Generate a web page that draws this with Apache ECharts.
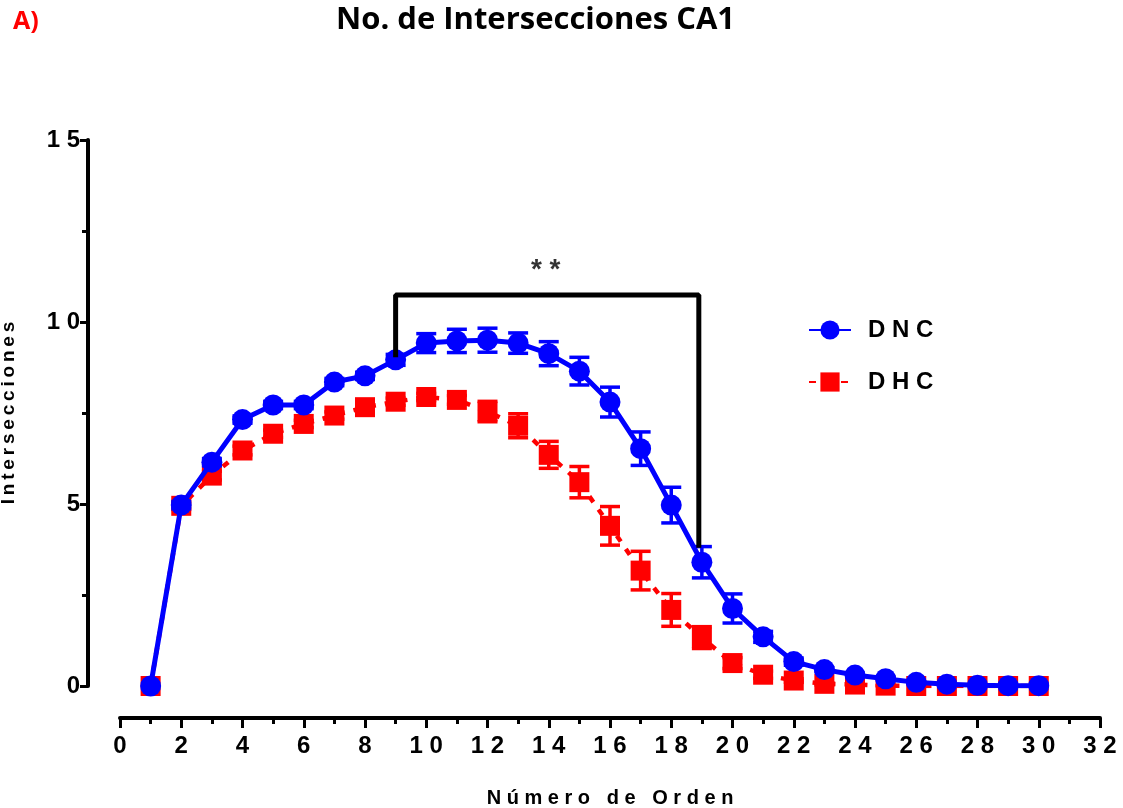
<!DOCTYPE html>
<html>
<head>
<meta charset="utf-8">
<script src="https://cdn.jsdelivr.net/npm/echarts@6/dist/echarts.min.js"></script>
<style>
html,body{margin:0;padding:0;background:#fff;}
#chart{width:1123px;height:808px;}
</style>
</head>
<body>
<div id="chart"></div>
<script>
// ---- data ----
const orden = [1,2,3,4,5,6,7,8,9,10,11,12,13,14,15,16,17,18,19,20,21,22,23,24,25,26,27,28,29,30];
const dnc    = [0,4.97,6.15,7.32,7.72,7.72,8.35,8.52,8.96,9.42,9.48,9.5,9.42,9.13,8.65,7.8,6.52,4.97,3.4,2.13,1.35,0.67,0.45,0.3,0.2,0.1,0.05,0.02,0.01,0.01];
const dncErr = [0,0.1,0.1,0.1,0.1,0.1,0.1,0.1,0.15,0.26,0.32,0.33,0.28,0.33,0.38,0.41,0.46,0.49,0.43,0.4,0.15,0.1,0.05,0.05,0.03,0.02,0.02,0.01,0.01,0.01];
const dhc    = [0,4.95,5.78,6.47,6.93,7.2,7.43,7.66,7.81,7.94,7.86,7.54,7.15,6.35,5.6,4.4,3.17,2.09,1.33,0.63,0.31,0.15,0.06,0.04,0.01,0,0,0,0,0];
const dhcErr = [0,0.1,0.12,0.12,0.1,0.1,0.1,0.1,0.1,0.1,0.12,0.28,0.33,0.37,0.43,0.53,0.53,0.45,0.3,0.15,0.1,0.05,0.03,0.02,0.01,0,0,0,0,0];
const seriesNames = ['DNC','DHC'];
const bracket = [[9,9.1],[9,10.74],[18.9,10.74],[18.9,3.87]];
const sigMark = [[13.9,11.43]];
const sigText = '* *';
const titleText = 'No. de Intersecciones CA1';
const panelText = 'A)';
const xName = 'Número de Orden';
const yName = 'Intersecciones';

// ---- helpers ----
const spread = (s, sp) => s.split('').join(sp || ' ');
const BLUE = '#0000ff', RED = '#ff0000';
const FONT = 'Liberation Sans, Arial, sans-serif';

function errRender(color){
  return function(params, api){
    const x = api.value(0), y = api.value(1), e = api.value(2);
    if (!e) return null;
    const t = api.coord([x, y + e]);
    const b = api.coord([x, y - e]);
    const hw = 10;
    const st = {stroke: color, lineWidth: 3.5};
    return {type:'group', children:[
      {type:'line', shape:{x1:t[0],y1:t[1],x2:b[0],y2:b[1]}, style:st},
      {type:'line', shape:{x1:t[0]-hw,y1:t[1],x2:t[0]+hw,y2:t[1]}, style:st},
      {type:'line', shape:{x1:b[0]-hw,y1:b[1],x2:b[0]+hw,y2:b[1]}, style:st}
    ]};
  };
}

const chart = echarts.init(document.getElementById('chart'), null, {renderer:'canvas'});
const option = {
  animation:false,
  backgroundColor:'#fff',
  title:[
    {text: panelText, left: 8, top: 4, textStyle:{color:RED, fontFamily:'Open Sans, sans-serif', fontWeight:'bold', fontSize:25}},
    {text: titleText, left: 331, top: 0, textStyle:{color:'#000', fontFamily:'Open Sans, sans-serif', fontWeight:'bold', fontSize:31}}
  ],
  legend:{
    data: seriesNames,
    orient:'vertical',
    left: 803, top: 313,
    itemWidth: 42, itemHeight: 24, itemGap: 28,
    formatter: n => spread(n),
    textStyle:{color:'#000', fontFamily:FONT, fontWeight:'bold', fontSize:24, padding:[0,0,0,12]}
  },
  grid:{left:120, right:23, top:140, bottom:122, containLabel:false, outerBoundsMode:'none'},
  xAxis:{
    type:'value', min:0, max:32, interval:2, offset:32,
    name: spread(xName), nameLocation:'middle', nameGap:70,
    nameTextStyle:{color:'#000', fontFamily:FONT, fontWeight:'bold', fontSize:20},
    axisLine:{show:true, onZero:false, lineStyle:{color:'#000', width:4}},
    axisTick:{show:true, length:10, lineStyle:{color:'#000', width:3}},
    minorTick:{show:true, splitNumber:2, length:6, lineStyle:{color:'#000', width:3}},
    splitLine:{show:false}, minorSplitLine:{show:false},
    axisLabel:{color:'#000', fontFamily:FONT, fontWeight:'bold', fontSize:24, margin:16, formatter: v => spread(String(v))}
  },
  yAxis:{
    type:'value', min:0, max:15, interval:5, offset:32,
    name: spread(yName, '\u2009'), nameLocation:'middle', nameGap:70,
    nameTextStyle:{color:'#000', fontFamily:FONT, fontWeight:'bold', fontSize:19},
    axisLine:{show:true, onZero:false, lineStyle:{color:'#000', width:4}},
    axisTick:{show:true, length:8, lineStyle:{color:'#000', width:3}},
    minorTick:{show:true, splitNumber:2, length:6, lineStyle:{color:'#000', width:3}},
    splitLine:{show:false}, minorSplitLine:{show:false},
    axisLabel:{color:'#000', fontFamily:FONT, fontWeight:'bold', fontSize:24, margin:8, formatter: v => spread(String(v))}
  },
  series:[
    {
      type:'custom', name:'DHC err', z:2, silent:true,
      renderItem: errRender(RED),
      encode:{x:0, y:1},
      data: orden.map((x,i)=>[x, dhc[i], dhcErr[i]])
    },
    {
      type:'line', name:'DHC', z:3,
      data: orden.map((x,i)=>[x, dhc[i]]),
      symbol:'rect', symbolSize:20,
      itemStyle:{color:RED},
      lineStyle:{color:RED, width:4.5, type:[7,9]}
    },
    {
      type:'custom', name:'DNC err', z:4, silent:true,
      renderItem: errRender(BLUE),
      encode:{x:0, y:1},
      data: orden.map((x,i)=>[x, dnc[i], dncErr[i]])
    },
    {
      type:'line', name:'DNC', z:5,
      data: orden.map((x,i)=>[x, dnc[i]]),
      symbol:'circle', symbolSize:21,
      itemStyle:{color:BLUE},
      lineStyle:{color:BLUE, width:5}
    },
    {
      type:'line', name:'bracket', z:6, silent:true,
      data: bracket, symbol:'none',
      lineStyle:{color:'#000', width:5, cap:'square'}
    },
    {
      type:'scatter', name:'sig', z:6, silent:true,
      data: sigMark, symbolSize:1,
      itemStyle:{color:'rgba(0,0,0,0)'},
      label:{show:true, position:'inside', formatter: sigText, color:'#000', fontFamily:FONT, fontWeight:'bold', fontSize:28}
    }
  ]
};
chart.setOption(option);
</script>
</body>
</html>
